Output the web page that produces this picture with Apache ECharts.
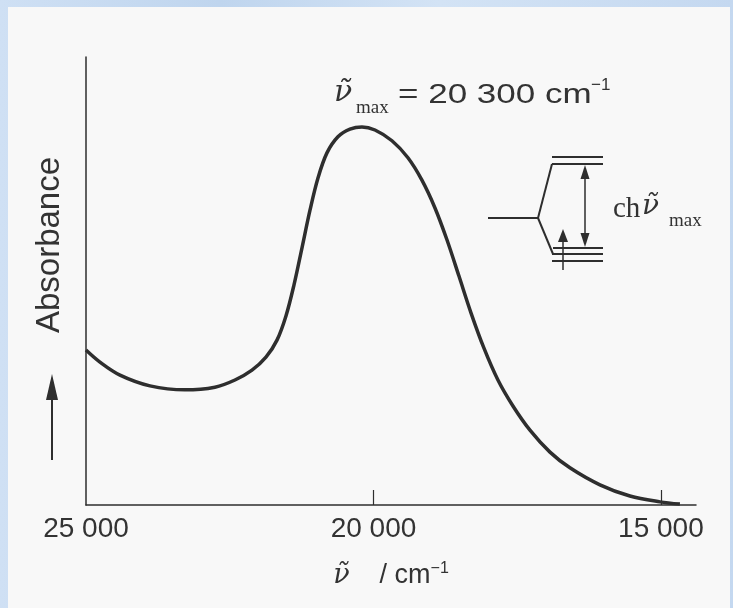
<!DOCTYPE html>
<html>
<head>
<meta charset="UTF-8">
<title>Absorbance</title>
<script src="https://cdn.jsdelivr.net/npm/echarts@6/dist/echarts.min.js"></script>
<style>
	html, body {
		margin: 0;
		padding: 0;
		width: 733px;
		height: 608px;
		overflow: hidden;
		background: #c8dbf1;
		background-image: linear-gradient(90deg, #cfe0f4 0%, #bfd5ee 30%, #d3e3f5 60%, #c4d8f0 100%);
	}
	#panel {
		position: absolute;
		left: 8px;
		top: 7px;
		width: 722px;
		height: 601px;
		background: #f8f8f8;
	}
	#main {
		position: absolute;
		left: 0;
		top: 0;
		width: 733px;
		height: 608px;
	}
</style>
</head>
<body>
<div id="panel"></div>
<div id="main"></div>
<script type="text/javascript">
	// spectrum (wavenumber / cm-1, absorbance in arbitrary units)
	var wavenumber = [25000, 24757, 24409, 23887, 23278, 22757, 22409, 22113, 21870, 21678, 21522,
		21383, 21243, 21104, 20965, 20809, 20618, 20409, 20200, 19974, 19678, 19400, 19157, 18930,
		18722, 18513, 18304, 18078, 17835, 17574, 17278, 16930, 16583, 16061, 15539, 15017, 14670];
	var absorbance = [0.346, 0.319, 0.290, 0.266, 0.257, 0.263, 0.279, 0.301, 0.330, 0.368, 0.422,
		0.491, 0.574, 0.658, 0.730, 0.786, 0.822, 0.839, 0.844, 0.837, 0.813, 0.775, 0.725, 0.663,
		0.592, 0.511, 0.429, 0.350, 0.279, 0.221, 0.167, 0.118, 0.083, 0.045, 0.020, 0.007, 0.002];
	var xLabelValues = [25000, 20000, 15000];
	var xTickValues = [20000, 15000];

	var ink = '#2e2e2e';
	var chart = echarts.init(document.getElementById('main'));

	function fmt(v) {
		var s = String(v);
		return s.slice(0, s.length - 3) + ' ' + s.slice(-3);
	}

	chart.setOption({
		backgroundColor: 'transparent',
		animation: false,
		grid: {
			left: 86,
			top: 57,
			right: 37,
			bottom: 103
		},
		xAxis: {
			type: 'value',
			inverse: true,
			min: 14390,
			max: 25000,
			splitLine: { show: false },
			axisLine: { lineStyle: { color: ink, width: 1.5 } },
			axisTick: {
				show: true,
				inside: true,
				length: 15,
				customValues: xTickValues,
				lineStyle: { color: ink, width: 1.2 }
			},
			axisLabel: {
				customValues: xLabelValues,
				formatter: fmt,
				margin: 10,
				color: '#333',
				fontFamily: 'Liberation Sans',
				fontSize: 28
			},
			name: '{nu|ν\u0303}{t|    / cm}{sup|−1}',
			nameLocation: 'middle',
			nameGap: 56,
			nameTextStyle: {
				rich: {
					nu: { fontFamily: 'DejaVu Serif', fontStyle: 'italic', fontSize: 27, color: '#333' },
					t: { fontFamily: 'Liberation Sans', fontSize: 27, color: '#333' },
					sup: { fontFamily: 'Liberation Sans', fontSize: 16, color: '#333', verticalAlign: 'top', padding: [0, 0, 14, 0] }
				}
			}
		},
		yAxis: {
			type: 'value',
			min: 0,
			max: 1,
			splitLine: { show: false },
			axisTick: { show: false },
			axisLabel: { show: false },
			axisLine: { show: true, lineStyle: { color: ink, width: 1.5 } }
		},
		series: [{
			type: 'line',
			data: wavenumber.map(function(w, i) { return [w, absorbance[i]]; }),
			smooth: 0.35,
			showSymbol: false,
			lineStyle: { color: ink, width: 3.5 }
		}],
		graphic: [
			// y axis title and its arrow
			{ type: 'text', x: 50, y: 245, rotation: Math.PI / 2, style: { text: 'Absorbance', font: '33px "Liberation Sans"', fill: '#333', textAlign: 'center', textVerticalAlign: 'middle' } },
			{ type: 'line', shape: { x1: 52, y1: 398, x2: 52, y2: 460 }, style: { stroke: ink, lineWidth: 2 } },
			{ type: 'polygon', shape: { points: [[52, 374], [46, 400], [58, 400]] }, style: { fill: ink } },
			// peak annotation
			{ type: 'text', x: 334, y: 93, style: { text: 'ν\u0303', font: 'italic 30px "DejaVu Serif"', fill: '#333', textAlign: 'left', textVerticalAlign: 'middle' } },
			{ type: 'text', x: 356, y: 108, style: { text: 'max', font: '19px "Liberation Serif"', fill: '#333', textAlign: 'left', textVerticalAlign: 'middle' } },
			{ type: 'text', x: 398, y: 95, scaleX: 1.25, style: { text: '= 20 300 cm', font: '28px "Liberation Sans"', fill: '#333', textAlign: 'left', textVerticalAlign: 'middle' } },
			{ type: 'text', x: 591, y: 85, style: { text: '−1', font: '17px "Liberation Sans"', fill: '#333', textAlign: 'left', textVerticalAlign: 'middle' } },
			// energy level inset
			{ type: 'line', shape: { x1: 488, y1: 218, x2: 538, y2: 218 }, style: { stroke: ink, lineWidth: 2 } },
			{ type: 'line', shape: { x1: 538, y1: 218, x2: 552, y2: 164 }, style: { stroke: ink, lineWidth: 2 } },
			{ type: 'line', shape: { x1: 538, y1: 218, x2: 553, y2: 254 }, style: { stroke: ink, lineWidth: 2 } },
			{ type: 'line', shape: { x1: 552, y1: 157, x2: 603, y2: 157 }, style: { stroke: ink, lineWidth: 2 } },
			{ type: 'line', shape: { x1: 552, y1: 164, x2: 603, y2: 164 }, style: { stroke: ink, lineWidth: 2 } },
			{ type: 'line', shape: { x1: 553, y1: 248, x2: 603, y2: 248 }, style: { stroke: ink, lineWidth: 2 } },
			{ type: 'line', shape: { x1: 552, y1: 254, x2: 603, y2: 254 }, style: { stroke: ink, lineWidth: 2 } },
			{ type: 'line', shape: { x1: 552, y1: 261, x2: 603, y2: 261 }, style: { stroke: ink, lineWidth: 2 } },
			{ type: 'line', shape: { x1: 585, y1: 176, x2: 585, y2: 236 }, style: { stroke: ink, lineWidth: 1.5 } },
			{ type: 'polygon', shape: { points: [[585, 165], [580.5, 179], [589.5, 179]] }, style: { fill: ink } },
			{ type: 'polygon', shape: { points: [[585, 247], [580.5, 233], [589.5, 233]] }, style: { fill: ink } },
			{ type: 'line', shape: { x1: 563, y1: 240, x2: 563, y2: 270 }, style: { stroke: ink, lineWidth: 1.5 } },
			{ type: 'polygon', shape: { points: [[563, 229], [558, 242], [568, 242]] }, style: { fill: ink } },
			{ type: 'text', x: 613, y: 209, style: { text: 'ch', font: '29px "Liberation Serif"', fill: '#333', textAlign: 'left', textVerticalAlign: 'middle' } },
			{ type: 'text', x: 642, y: 207, style: { text: 'ν\u0303', font: 'italic 28px "DejaVu Serif"', fill: '#333', textAlign: 'left', textVerticalAlign: 'middle' } },
			{ type: 'text', x: 669, y: 221, style: { text: 'max', font: '19px "Liberation Serif"', fill: '#333', textAlign: 'left', textVerticalAlign: 'middle' } }
		]
	});
</script>
</body>
</html>
